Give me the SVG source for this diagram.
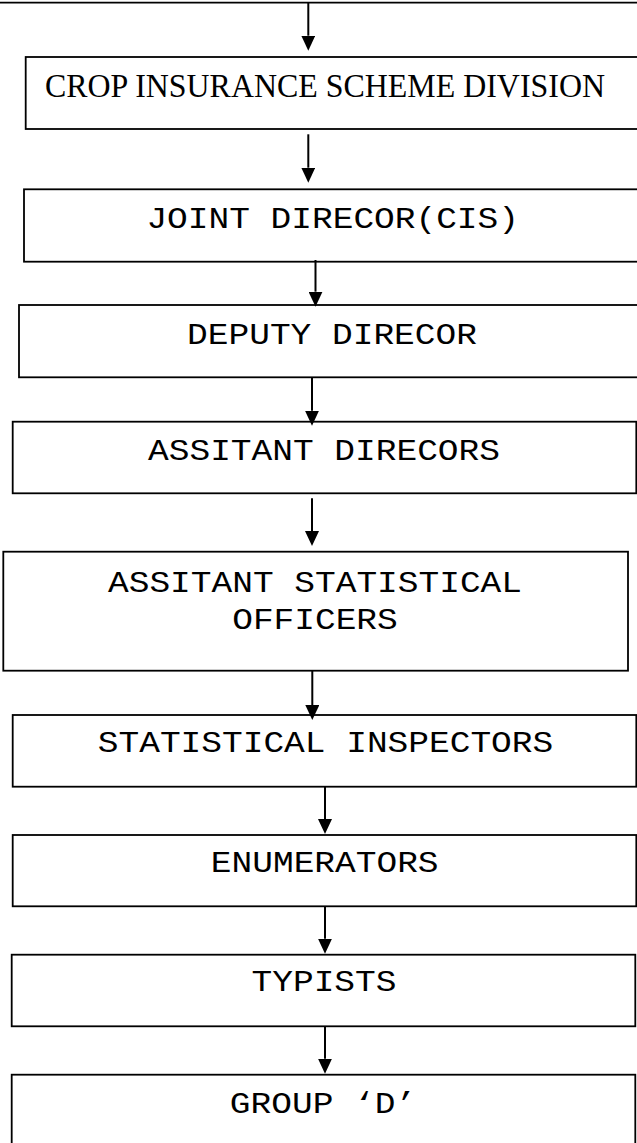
<svg xmlns="http://www.w3.org/2000/svg" width="637" height="1143" viewBox="0 0 637 1143">
<style>
.box{fill:#fff;stroke:#000;stroke-width:1.8}
.mono{font-family:"Liberation Mono","Courier New",monospace;font-size:29px;fill:#000;text-anchor:middle}
.serif{font-family:"Liberation Serif","Times New Roman",serif;font-size:33.7px;fill:#000}
.conn line{stroke:#000;stroke-width:2}
</style>
<defs>
<marker id="ah" markerUnits="userSpaceOnUse" markerWidth="15" markerHeight="14" refX="0" refY="7" orient="auto">
<path d="M0,0 L15,7 L0,14 z" fill="#000"/>
</marker>
</defs>
<rect width="637" height="1143" fill="#fff"/>
<line x1="0" y1="2.7" x2="637" y2="2.7" stroke="#000" stroke-width="1.8"/>
<g id="n1"><rect class="box" x="25.7" y="57" width="620" height="72"/><text class="serif" x="45" y="97.3" textLength="560" lengthAdjust="spacingAndGlyphs">CROP INSURANCE SCHEME DIVISION</text></g>
<g id="n2"><rect class="box" x="24" y="189.3" width="620" height="72.4"/><text class="mono" x="332.7" y="227.5" textLength="372.6" lengthAdjust="spacingAndGlyphs">JOINT DIRECOR(CIS)</text></g>
<g id="n3"><rect class="box" x="19" y="305" width="625" height="72.3"/><text class="mono" x="332" y="344" textLength="289.8" lengthAdjust="spacingAndGlyphs">DEPUTY DIRECOR</text></g>
<g id="n4"><rect class="box" x="12.7" y="421.7" width="623.6" height="71.6"/><text class="mono" x="324" y="460" textLength="351.9" lengthAdjust="spacingAndGlyphs">ASSITANT DIRECORS</text></g>
<g id="n5"><rect class="box" x="3.3" y="551.7" width="624.7" height="119"/><text class="mono" x="315" y="591.5" textLength="414" lengthAdjust="spacingAndGlyphs">ASSITANT STATISTICAL</text><text class="mono" x="315" y="629" textLength="165.6" lengthAdjust="spacingAndGlyphs">OFFICERS</text></g>
<g id="n6"><rect class="box" x="12.7" y="715" width="623.6" height="71.7"/><text class="mono" x="325.5" y="752.3" textLength="455.4" lengthAdjust="spacingAndGlyphs">STATISTICAL INSPECTORS</text></g>
<g id="n7"><rect class="box" x="12.7" y="835" width="623.6" height="71.3"/><text class="mono" x="324.7" y="872" textLength="227.7" lengthAdjust="spacingAndGlyphs">ENUMERATORS</text></g>
<g id="n8"><rect class="box" x="11.7" y="954.7" width="623.6" height="71.6"/><text class="mono" x="324" y="991.3" textLength="144.9" lengthAdjust="spacingAndGlyphs">TYPISTS</text></g>
<g id="n9"><rect class="box" x="11.7" y="1074.7" width="623.6" height="80"/><text class="mono" x="323" y="1113" textLength="186.3" lengthAdjust="spacingAndGlyphs">GROUP ‘D’</text></g>
<g id="connectors" class="conn">
<line x1="308.3" y1="3" x2="308.3" y2="35.7" marker-end="url(#ah)"/>
<line x1="308.3" y1="134.3" x2="308.3" y2="167.7" marker-end="url(#ah)"/>
<line x1="315.5" y1="260" x2="315.5" y2="291.7" marker-end="url(#ah)"/>
<line x1="312" y1="377" x2="312" y2="410.7" marker-end="url(#ah)"/>
<line x1="312" y1="498.3" x2="312" y2="531" marker-end="url(#ah)"/>
<line x1="312.3" y1="670.7" x2="312.3" y2="705" marker-end="url(#ah)"/>
<line x1="325" y1="786.7" x2="325" y2="819" marker-end="url(#ah)"/>
<line x1="325" y1="906" x2="325" y2="938.7" marker-end="url(#ah)"/>
<line x1="325" y1="1026" x2="325" y2="1058.7" marker-end="url(#ah)"/>
</g>
</svg>
